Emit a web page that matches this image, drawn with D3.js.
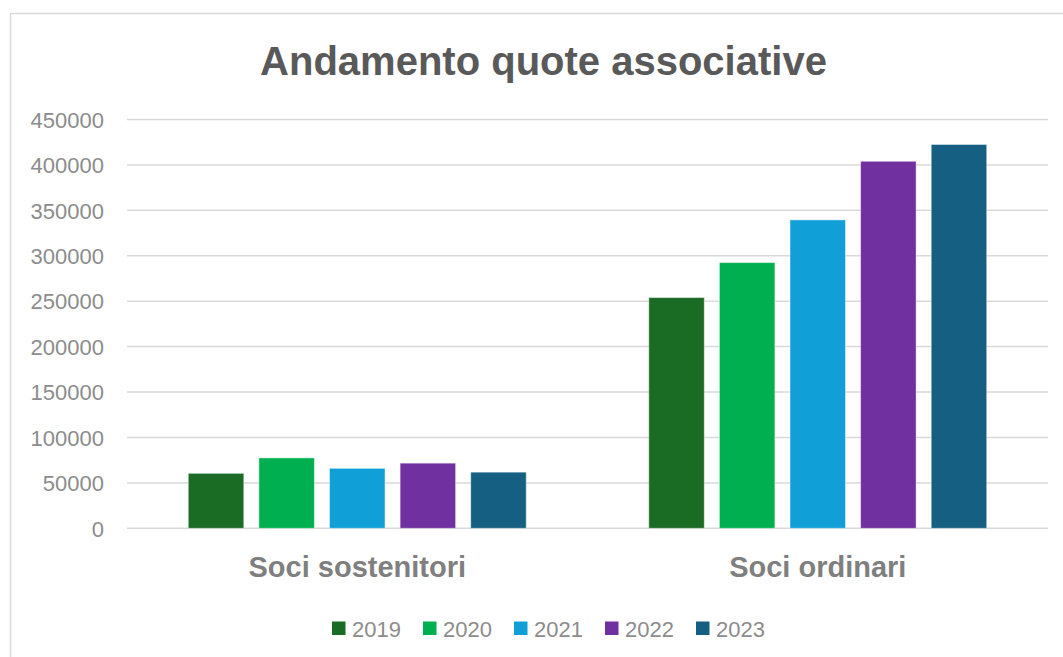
<!DOCTYPE html>
<html><head><meta charset="utf-8">
<script src="https://cdn.jsdelivr.net/npm/d3@7"></script>
<style>html,body{margin:0;padding:0;background:#fff;}svg{display:block;}</style>
</head><body>
<script>
const categories = ["Soci sostenitori", "Soci ordinari"];
const years = ["2019", "2020", "2021", "2022", "2023"];
const values2019 = [60500, 254000];
const values2020 = [77500, 292500];
const values2021 = [66000, 339500];
const values2022 = [71700, 404000];
const values2023 = [61800, 422500];
const seriesValues = [values2019, values2020, values2021, values2022, values2023];
const yTicks = [0, 50000, 100000, 150000, 200000, 250000, 300000, 350000, 400000, 450000];
const colors = ["#1a6b24", "#00b050", "#119fd8", "#7030a0", "#156082"];
const chartTitle = "Andamento quote associative";

(function () {
const W = 1063, H = 657;
const svg = d3.select("body").append("svg").attr("width", W).attr("height", H);
const font = "'Liberation Sans', Arial, sans-serif";

// frame
svg.append("rect").attr("x", 10.5).attr("y", 13.5).attr("width", 1100).attr("height", 700)
  .attr("fill", "#fff").attr("stroke", "#d9d9d9").attr("stroke-width", 1.5);

const pLeft = 127, pRight = 1048, pTop = 119.5, pBottom = 528.3;
const x0 = d3.scaleBand().domain(categories).range([pLeft, pRight]).paddingInner(0).paddingOuter(0);
const x1 = d3.scaleBand().domain(years).range([0, x0.bandwidth()]).paddingInner(0.214).paddingOuter(0.868);
const y = d3.scaleLinear().domain([0, 450000]).range([pBottom, pTop]);

// gridlines
svg.append("g").selectAll("line").data(yTicks).join("line")
  .attr("x1", pLeft).attr("x2", pRight)
  .attr("y1", d => y(d)).attr("y2", d => y(d))
  .attr("stroke", "#d9d9d9").attr("stroke-width", 1.5);

// y axis labels
const yAxis = d3.axisLeft(y).tickValues(yTicks).tickSize(0).tickPadding(0).tickFormat(d3.format("d"));
const yg = svg.append("g").attr("transform", `translate(104,0)`).call(yAxis);
yg.select(".domain").remove();
yg.selectAll("text").attr("font-family", font).attr("font-size", 22).attr("fill", "#8c8c8c").attr("dy", "0.35em");

// bars
const groups = svg.append("g").selectAll("g").data(categories).join("g")
  .attr("transform", d => `translate(${x0(d)},0)`);
groups.selectAll("rect").data((c, ci) => years.map((yr, si) => ({yr, si, v: seriesValues[si][ci]})))
  .join("rect")
  .attr("x", d => x1(d.yr)).attr("width", x1.bandwidth())
  .attr("y", d => y(d.v)).attr("height", d => y(0) - y(d.v))
  .attr("fill", d => colors[d.si])
  .attr("stroke", "rgba(255,255,255,0.45)").attr("stroke-width", 1);

// category labels
const xAxis = d3.axisBottom(x0).tickSize(0).tickPadding(0);
const xg = svg.append("g").attr("transform", `translate(0,${pBottom})`).call(xAxis);
xg.select(".domain").remove();
xg.selectAll("text").attr("font-family", font).attr("font-size", 29).attr("font-weight", "bold")
  .attr("fill", "#7f7f7f").attr("dy", 0).attr("y", 48.5);

// title
svg.append("text").attr("x", 543.5).attr("y", 74.5).attr("text-anchor", "middle")
  .attr("font-family", font).attr("font-size", 40).attr("font-weight", "bold").attr("fill", "#595959")
  .text(chartTitle);

// legend
const legend = svg.append("g").attr("transform", "translate(332,0)");
const li = legend.selectAll("g").data(years).join("g").attr("transform", (d, i) => `translate(${i * 91},0)`);
li.append("rect").attr("x", 0).attr("y", 621.5).attr("width", 13.5).attr("height", 13.5)
  .attr("fill", (d, i) => colors[i]);
li.append("text").attr("x", 20).attr("y", 636.5).attr("font-family", font).attr("font-size", 22)
  .attr("fill", "#8c8c8c").text(d => d);
})();
</script>
</body></html>
